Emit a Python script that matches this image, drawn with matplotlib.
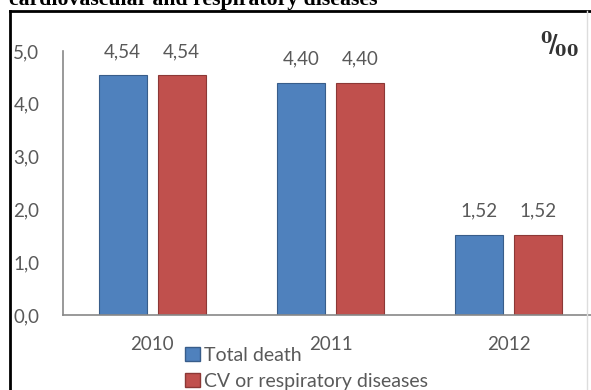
import matplotlib
matplotlib.use("Agg")
import matplotlib.pyplot as plt
import numpy as np
from matplotlib.patches import Patch

# values (per mille)
years = ["2010", "2011", "2012"]
total_death = [4.54, 4.40, 1.52]
cv_resp = [4.54, 4.40, 1.52]
series_names = ["Total death", "CV or respiratory diseases"]
y_ticks = [0.0, 1.0, 2.0, 3.0, 4.0, 5.0]

BLUE = "#4F81BD"
RED = "#C0504D"
TXT = "#595959"
AXIS = "#888888"

plt.rcParams["font.family"] = ["Lato", "DejaVu Sans"]

W, H = 591, 390
fig = plt.figure(figsize=(W / 100, H / 100), dpi=100)
fig.patch.set_facecolor("white")

ax = fig.add_axes([63 / W, 1 - 315 / H, 535 / W, 264 / H])
x = np.arange(len(years))
bw = 0.27
off = 0.165
b1 = ax.bar(x - off, total_death, bw, color=BLUE, edgecolor="#385D8A", linewidth=0.8)
b2 = ax.bar(x + off, cv_resp, bw, color=RED, edgecolor="#8C3836", linewidth=0.8)

for bars, vals in ((b1, total_death), (b2, cv_resp)):
    for rect, v in zip(bars, vals):
        ax.annotate(f"{v:.2f}".replace(".", ","),
                    (rect.get_x() + rect.get_width() / 2, v),
                    xytext=(0, 17), textcoords="offset points",
                    ha="center", va="center", fontsize=13.5, color=TXT)

ax.set_xlim(-0.5, 2.5)
ax.set_ylim(0, 5)
ax.set_yticks(y_ticks)
ax.set_yticklabels([f"{t:.1f}".replace(".", ",") for t in y_ticks])
ax.set_xticks(x)
ax.set_xticklabels(years)
ax.tick_params(axis="y", length=0, pad=17, labelsize=13.5, labelcolor=TXT)
ax.tick_params(axis="x", length=0, pad=15, labelsize=13.5, labelcolor=TXT)
for s in ("top", "right"):
    ax.spines[s].set_visible(False)
for s in ("left", "bottom"):
    ax.spines[s].set_color(AXIS)
    ax.spines[s].set_linewidth(1.2)

# per mille sign in the corner
fig.text(540 / W, 1 - 44 / H, r"$\mathbf{^{0}\!/_{\!00}}$", fontsize=17, color="#333333",
         math_fontfamily="dejavuserif", ha="left", va="center")

handles = [Patch(facecolor=BLUE, edgecolor="#385D8A", label=series_names[0]),
           Patch(facecolor=RED, edgecolor="#8C3836", label=series_names[1])]
fig.legend(handles=handles, loc="upper left", bbox_to_anchor=(185 / W, 1 - 347 / H),
           frameon=False, fontsize=14, handlelength=0.75, handleheight=0.75,
           handletextpad=0.25, labelspacing=0.45, borderpad=0, borderaxespad=0,
           labelcolor=TXT)

# caption cut off at the top, as in the source, and the black frame
fig.text(9 / W, 1 - 5 / H, "cardiovascular and respiratory diseases",
         family="Liberation Serif", weight="bold", fontsize=15.7, ha="left",
         va="baseline", color="black")
fig.add_artist(plt.Line2D([10 / W, 1], [1 - 11 / H, 1 - 11 / H], color="black", lw=2))
fig.add_artist(plt.Line2D([10 / W, 10 / W], [0, 1 - 11 / H], color="black", lw=2))
fig.add_artist(plt.Line2D([587 / W, 587 / W], [0, 1 - 11 / H], color="#dddddd", lw=1))

fig.savefig("out.png", dpi=100)
